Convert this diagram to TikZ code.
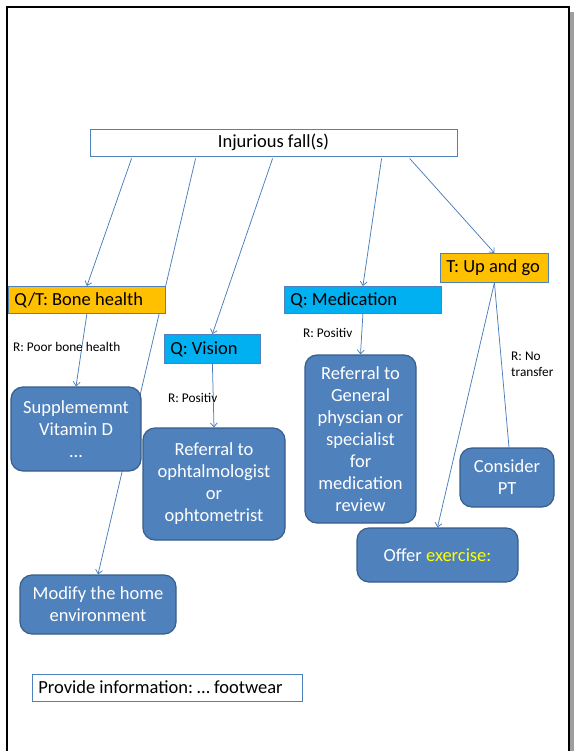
\documentclass[tikz,border=0pt]{standalone}
\usepackage{fontspec}
\setmainfont{Carlito}
\usepackage{xcolor}
\usepackage{tikz}
\usetikzlibrary{
    positioning,
    arrows.meta,
    calc,
    backgrounds
}
\definecolor{officeBlue}{RGB}{79, 129, 189}
\definecolor{officeDark}{RGB}{56, 93, 138}
\definecolor{lineBlue}{RGB}{74, 126, 187}
\definecolor{qOrange}{RGB}{255, 192, 0}
\definecolor{qCyan}{RGB}{0, 176, 240}
\definecolor{exYellow}{RGB}{255, 255, 0}
\frenchspacing

\tikzset{
    bigfont/.style={font=\fontsize{18.5}{22}\selectfont},
    plainbox/.style={bigfont, draw=officeBlue, line width=0.8pt, fill=white,
        inner xsep=6pt, inner ysep=0pt, minimum height=27pt},
    qbox/.style={bigfont, draw=officeBlue, line width=0.8pt, anchor=north west,
        inner xsep=6pt, inner ysep=0pt, align=flush left},
    actbox/.style={bigfont, rounded corners=12pt, draw=officeDark, line width=1.2pt,
        fill=officeBlue, text=white, align=center, inner sep=0pt},
    rlabel/.style={font=\fontsize{13.3}{16}\selectfont, anchor=west, inner sep=0pt, align=left},
    link/.style={draw=lineBlue, line width=0.75pt}
}

\begin{document}
\begin{tikzpicture}[x=1pt, y=-1pt, >={Straight Barb[length=4pt, width=7pt]}]
        \useasboundingbox (0, 0) rectangle (574, 751);

        % Top box
        \node[plainbox, minimum width=367pt] (fall) at (273.5, 142.5) {Injurious fall(s)};

        % Questions / tests
        \node[qbox, fill=qOrange, text width=145pt, minimum height=27pt] (bone) at (8, 286) {Q/T: Bone health};
        \node[qbox, fill=qCyan, text width=84pt, minimum height=29pt] (vision) at (164, 334) {Q: Vision};
        \node[qbox, fill=qCyan, text width=145pt, minimum height=27pt] (medic) at (284, 286) {Q: Medication};
        \node[qbox, fill=qOrange, text width=96pt, minimum height=29pt] (upgo) at (440, 253) {T: Up and go};

        % Actions
        \node[actbox, minimum width=130pt, minimum height=84pt] (vitd) at (76, 429) {Supplememnt\\Vitamin D\\\dots};
        \node[actbox, minimum width=142pt, minimum height=112pt] (ophtal) at (214, 484) {Referral to\\ophtalmologist\\or\\ophtometrist};
        \node[actbox, minimum width=111pt, minimum height=168pt] (gp) at (360.5, 439) {Referral to\\General\\physcian or\\specialist\\for\\medication\\review};
        \node[actbox, minimum width=94pt, minimum height=59pt] (pt) at (507, 477.5) {Consider\\PT};
        \node[actbox, minimum width=161pt, minimum height=54pt] (exer) at (437.5, 555) {Offer \textcolor{exYellow}{exercise:}};
        \node[actbox, minimum width=156pt, minimum height=59pt] (home) at (98, 604.5) {Modify the home\\environment};

        \node[plainbox, anchor=west, text width=258pt, align=flush left] (info) at (32, 687.5) {Provide information: \dots\ footwear};

        % Results
        \node[rlabel] (rbone) at (13, 347) {R: Poor bone health};
        \node[rlabel] (rvision) at (168, 398) {R: Positiv};
        \node[rlabel] (rmedic) at (303, 333) {R: Positiv};
        \node[rlabel] (rupgo) at (511, 364) {R: No\\transfer};

        \begin{scope}[on background layer]
            % Page frame
            \fill[gray!75] (569.5, 12) rectangle (574, 760);
            \draw[line width=1.3pt] (569, 760) -- (569, 7) -- (7, 7) -- (7, 760);

            % Arrows
            \draw[->, link] ([shift={(42, 2)}]fall.south west) -- (bone.north);
            \draw[->, link] ([shift={(106, 2)}]fall.south west) -- (home.north);
            \draw[->, link] ([shift={(183, 2)}]fall.south west) -- (vision.north);
            \draw[->, link] ([shift={(292, 2)}]fall.south west) -- (medic.north);
            \draw[->, link] ([shift={(320, 2)}]fall.south west) -- (upgo.north);

            \draw[->, link] (bone.south) -- (vitd.north);
            \draw[->, link] (vision.south) -- (ophtal.north);
            \draw[->, link] (medic.south) -- (gp.north);
            \draw[link] (upgo.south) -- ([xshift=2pt]pt.north);
            \draw[->, link] (upgo.south) -- (exer.north);
        \end{scope}
    \end{tikzpicture}
\end{document}
